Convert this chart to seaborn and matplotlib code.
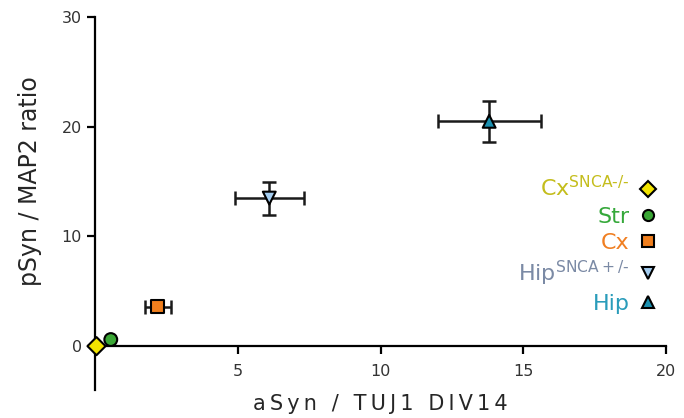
import matplotlib.pyplot as plt
import seaborn as sns
import pandas as pd

plt.switch_backend("Agg")

# values
groups = ["CxKO", "Str", "Cx", "HipHet", "Hip"]
labels = [r"Cx$^{\mathregular{SNCA\text{-}/\text{-}}}$", "Str", "Cx",
          r"Hip$^{\mathregular{SNCA+/\text{-}}}$", "Hip"]
asyn = [0.05, 0.55, 2.2, 6.1, 13.8]
psyn = [0.0, 0.6, 3.6, 13.5, 20.5]
asyn_err = [0.0, 0.0, 0.45, 1.2, 1.8]
psyn_err = [0.0, 0.0, 0.0, 1.5, 1.85]
markers = ["D", "o", "s", "v", "^"]
fill_colors = ["#f2e400", "#3aa635", "#f07f1e", "#a4cdf0", "#1b90b0"]
text_colors = ["#c4bd1c", "#35a83a", "#f07f22", "#7b8aa5", "#2a9cba"]

df = pd.DataFrame({"group": groups, "aSyn": asyn, "pSyn": psyn,
                   "xerr": asyn_err, "yerr": psyn_err})

sns.set_style("white")
plt.rcParams["font.family"] = ["DejaVu Sans"]
fig = plt.figure(figsize=(6.84, 4.18), dpi=100)
ax = fig.add_axes([0.139, 0.067, 0.835, 0.892])

for i, r in df.iterrows():
    if r["xerr"] > 0 or r["yerr"] > 0:
        ax.errorbar(r["aSyn"], r["pSyn"],
                    xerr=r["xerr"] if r["xerr"] > 0 else None,
                    yerr=r["yerr"] if r["yerr"] > 0 else None,
                    fmt="none", ecolor="#1a1a1a", elinewidth=1.8,
                    capsize=5, capthick=1.8, zorder=2)

sns.scatterplot(data=df, x="aSyn", y="pSyn", hue="group", style="group",
                palette=dict(zip(groups, fill_colors)),
                markers=dict(zip(groups, markers)),
                s=85, edgecolor="black", linewidth=1.5, ax=ax,
                zorder=3, clip_on=False, legend=False)

# custom legend with coloured text, marker on the right
handles = [plt.Line2D([], [], marker=m, color="none", markerfacecolor=c,
                      markeredgecolor="black", markeredgewidth=1.5,
                      markersize=8)
           for m, c in zip(markers, fill_colors)]
leg = ax.legend(handles, labels, frameon=False, markerfirst=False,
                loc="center right", bbox_to_anchor=(1.018, 0.39),
                fontsize=16, labelspacing=0.27, handlelength=0.8,
                handletextpad=0.4, labelcolor=text_colors)

ax.set_xlim(0, 20)
ax.set_ylim(-4, 30)
ax.set_xticks([5, 10, 15, 20])
ax.set_yticks([0, 10, 20, 30])
ax.spines["top"].set_visible(False)
ax.spines["right"].set_visible(False)
ax.spines["bottom"].set_position(("data", 0))
for s in ["left", "bottom"]:
    ax.spines[s].set_linewidth(1.6)
    ax.spines[s].set_color("black")
ax.tick_params(axis="both", direction="out", length=6, width=1.6,
               labelsize=11.5, labelcolor="#333333", color="black",
               left=True, bottom=True)
ax.tick_params(axis="x", pad=7)

ts = "\u2009"
ax.set_xlabel(ts.join("aSyn / TUJ1 DIV14"), fontsize=15, va="center")
ax.set_ylabel("pSyn / MAP2 ratio", fontsize=17, va="center")
ax.xaxis.set_label_coords(0.5, -0.037)
ax.yaxis.set_label_coords(-0.114, 0.56)

fig.savefig("out.png", dpi=100)
plt.close()
